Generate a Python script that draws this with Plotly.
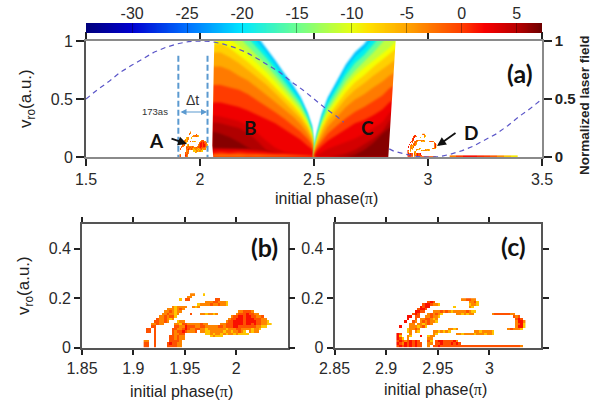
import plotly.graph_objects as go

W, H = 599, 405
# ---------- data ----------
phase_b = [2.055, 2.09, 2.13, 2.17, 2.21, 2.25, 2.29, 2.33, 2.37, 2.41, 2.44, 2.47, 2.49, 2.497, 2.5]
levels_b = {
    -21: [1.40,1.40,1.32,1.24,1.14,1.045,.945,.835,.72,.615,.52,.39,.27,.12,0],
    -18: [1.33,1.33,1.26,1.19,1.09,1.00,.905,.80,.69,.59,.50,.37,.255,.11,0],
    -15: [1.25,1.25,1.18,1.12,1.03,.945,.855,.755,.655,.555,.47,.35,.24,.10,0],
    -12: [1.12,1.14,1.10,1.04,.955,.875,.795,.70,.605,.515,.435,.325,.22,.09,0],
    -10: [1.03,1.05,1.02,.96,.885,.81,.735,.65,.56,.475,.40,.30,.20,.085,0],
    -7.5: [.97,.98,.94,.88,.82,.75,.68,.60,.52,.44,.37,.275,.185,.08,0],
    -5: [.90,.90,.86,.81,.75,.69,.625,.55,.475,.40,.335,.25,.165,.07,0],
    -2.5: [.78,.78,.75,.70,.66,.60,.54,.475,.41,.345,.285,.21,.14,.06,0],
    0: [.62,.62,.60,.58,.54,.49,.44,.385,.33,.27,.22,.16,.11,.05,0],
    2: [.47,.47,.45,.43,.40,.365,.33,.29,.24,.19,.15,.10,.07,.03,0],
    3.5: [.36,.35,.33,.31,.27,.21,.14,.08,.04,.02,.01,0,0,0,0],
    5: [.30,.29,.27,.25,.21,.14,.06,.03,0,0,0,0,0,0,0],
    6.5: [.22,.20,.17,.13,.08,.04,.02,0,0,0,0,0,0,0,0],
}
bottom_b = {
    3.5: [.075,.075,.075,.075,.07,.06,.05,0,0,0,0,0,0,0,0],
    2: [.06,.06,.06,.06,.055,.05,.045,.04,.035,.03,.03,.025,.02,.01,0],
    0: [.035,.04,.035,.04,.035,.03,.03,.025,.025,.02,.02,.015,.015,.01,0],
    -2.5: [.015,.02,.018,.02,.012,.015,.01,.008,.008,.006,.006,.006,.006,.004,0],
}
phase_c = [2.5, 2.505, 2.515, 2.535, 2.56, 2.6, 2.64, 2.68, 2.72, 2.76, 2.8, 2.83, 2.87]
levels_c = {
    -21: [0,.12,.22,.37,.51,.66,.80,.905,.975,1.08,1.18,1.26,1.36],
    -18: [0,.11,.205,.355,.48,.625,.76,.865,.935,1.03,1.13,1.21,1.31],
    -15: [0,.10,.19,.33,.45,.585,.71,.81,.88,.97,1.07,1.14,1.24],
    -12: [0,.09,.175,.30,.41,.535,.655,.745,.82,.90,.99,1.05,1.14],
    -10: [0,.085,.16,.275,.38,.50,.61,.70,.77,.83,.89,.94,1.02],
    -7.5: [0,.075,.145,.25,.35,.46,.56,.645,.705,.775,.84,.885,.95],
    -5: [0,.065,.125,.22,.31,.41,.505,.58,.635,.70,.755,.80,.86],
    -2.5: [0,.055,.105,.18,.26,.345,.43,.495,.54,.60,.65,.70,.75],
    0: [0,.04,.085,.14,.20,.27,.335,.39,.43,.48,.53,.59,.64],
    2: [0,.03,.06,.095,.14,.19,.24,.29,.32,.36,.41,.47,.52],
    3.5: [0,0,.02,.04,.07,.10,.13,.16,.20,.25,.30,.38,.43],
    5: [0,0,0,0,0,.01,.03,.06,.11,.16,.22,.31,.36],
    6.5: [0,0,0,0,0,0,0,.02,.06,.12,.20,.25,.30],
}
level_colors = {-21:"#00c4ff",-18:"#00f0f0",-15:"#66ff99",-12:"#c0ff40",-10:"#f5ff00",-7.5:"#ffd000",
                -5:"#ffa800",-2.5:"#ff7a00",0:"#ff3c00",2:"#f00000",3.5:"#d40000",5:"#b00000",6.5:"#860000"}

edge_b_x = [2.036, 2.063, 2.06, 2.055, 2.054, 2.058, 2.036]
edge_b_v = [1.0, 1.0, .75, .4, .1, 0, 0]
edge_c_x = [2.905, 2.858, 2.826, 2.905]
edge_c_v = [1.0, 1.0, 0, 0]

laser_phase = [1.5,1.55,1.6,1.65,1.7,1.75,1.8,1.85,1.9,1.95,2,2.05,2.1,2.15,2.2,2.25,2.3,2.35,2.4,2.45,2.5,2.55,2.6,2.63,
               None,2.83,2.85,2.9,2.95,3,3.03,3.05,3.1,3.15,3.2,3.25,3.3,3.35,3.4,3.45,3.5]
laser_field = [.5,.58,.65,.73,.79,.85,.905,.945,.975,.995,1,.995,.975,.945,.905,.85,.79,.73,.65,.58,.5,.42,.35,.30,
               None,.07,.05,.025,.006,0,0,.002,.025,.055,.095,.145,.2,.27,.35,.42,.5]

code = {".": None, "y": -7, "o": -3.5, "r": -1, "R": 1.5}
# panel (b): top row is v=0.21..0.22, cells 0.0025 x 0.01, from phase 1.91
rows_b = [
 ".......... ........oo ...y...... .......... ..........",
 ".......... .......oo. .......... .......... ..........",
 ".......... ....y.rr.. ........rr .......... ..........",
 ".......... .......... ....ooorro ooy....... ..........",
 ".......... .......... .yooooroor ooy....... ..........",
 ".......... .oyoooo..o yo........ .......... ..........",
 ".........o ooyoro.... .......... .......... ..........",
 "........oo royoo..... .......... .......oor rro.......",
 ".......oor ooyo....r. ..ooyooyo. ......orrr Rrroo.....",
 "......ooro rry....... .......... ....orrRRr RRrroor...",
 ".....rooro yo........ .......... ...orrRRRr RRRrrroo..",
 "....rrooro ...yoo.... .......... ..orrRRRRr RRRRrrooy.",
 "...ooroo.. ..ooyrrooo ooroo..... oorrrRRRRr RRrRrrooyy",
 "...rr..... ..rrooRrrr oorrooooor rorrrRRrrr rrrrooyy..",
 ".rr.r..... .rroorRroo rrooyooooo ooyooorroo ooyooy....",
 ".rr.r..... .rorrRrooo r.ooyyoooo oyooyooroy .oyoo.....",
 "....r..... .roorr.... ....yyoyoo yoyooyoyyy y.........",
 "....r..... rroroo.... ......yoyy y......... ..........",
 "....r..... rroroo.... .......... .......... ..........",
 "oo..r..... rrrro..... .......... .......... ..........",
 "rr..r....r Rrroo..... .......... .......... ..........",
 "rr..r....r rrroo..... .......... .......... ..........",
]
# panel (c): top row is v=0.19..0.20, cells 0.0025 x 0.01, from phase 2.91
rows_c = [
 ".......... .......... .....oorro o......... ..........",
 ".......... ..rRr..... ........oo ry........ ..........",
 ".......... rRRrooy... ........yo oy........ ..........",
 ".........R rRR....... ..y.....oy .......... ..........",
 "........rR Rr........ .......... .......... ..........",
 ".......RRr r...oooror oyoooooroy y......... ..........",
 "......rRr. ..ororoy.. ...ooyoyoo .......orr rrrroo....",
 "....RR.rr. .oorooy... .......... .......... .....ror..",
 "....R..r.o orroyo.... .......... .......... ......rRr.",
 "...R..ro.o rorooy.... .......... .......... ......oRRo",
 ".....oo.oo yoro...... .......... .......... ......orRy",
 ".R...oooyo ry........ .......... .......... ......oRRy",
 "....yooro. .......... ooyo...... .......... ...oroooy.",
 "....yo.oy. ....ooyoyo y......... ooyooooy.. ..........",
 "Rr...o.... ....oy.... ...ooyoooo yoooyooy.. ..........",
 "Ry..oy...R ..yoo..... .......... .......... ..........",
 "Rry.o..... ..oo...... .......... .......... ..........",
 "rRrorRrRr. ..ry.rRRrr rrRo...... .......... ..........",
 "RroRrRrRrr ..oo.rrRrr rRrRr..... .......... ..........",
 "rRrRrRrRrr ..o.rrRrrr rrrrrrrrrr rrrrrrrrrr rrrrrrrro.",
]
strip_phase = [3.11,3.14,3.17,3.2,3.23,3.26,3.29,3.32,3.35,3.38]
strip_z = [[-3,0,1.5,1.5,0.5,0,-1.5,-4,-7,-9]]
strip_v = [0, 0.014]

x_ticks_a = [1.5,2,2.5,3,3.5]
x_ticks_b = [1.85,1.9,1.95,2]
x_ticks_c = [2.85,2.9,2.95,3]
colorbar_ticks = [-30,-25,-20,-15,-10,-5,0,5]
colorbar_stops = [[-34.2,"#00007c"],[-30,"#0000d0"],[-25,"#0070ff"],[-20,"#00e8ff"],[-15,"#6cff90"],[-10,"#e8ff10"],
                  [-8.5,"#ffe000"],[-5,"#ffa400"],[0,"#ff3c00"],[2,"#f80000"],[5,"#b80000"],[7.3,"#6a0000"]]

# ---------- helpers ----------
CMIN, CMAX = -34.2, 7.3
px = lambda x: x / W
py = lambda y: 1 - y / H

def grid(rows, x0):
    clean = [r.replace(" ", "") for r in rows][::-1]
    z = [[code[c] for c in r] for r in clean]
    xs = [x0 + 0.0025 * (i + 0.5) for i in range(len(z[0]))]
    ys = [0.01 * (i + 0.5) for i in range(len(z))]
    return xs, ys, z

xb, yb, zb = grid(rows_b, 1.91)
xc, yc, zc = grid(rows_c, 2.91)

fig = go.Figure()

def band(xs, ys, lv):
    fig.add_trace(go.Scatter(x=xs, y=ys, mode="lines", line=dict(width=0), fill="tozeroy",
                             fillcolor=level_colors[lv], hoverinfo="skip", showlegend=False, xaxis="x", yaxis="y"))

for lv, v in levels_b.items():
    band(phase_b, v, lv)
for lv, v in bottom_b.items():
    band(phase_b, v, lv)
for lv, v in levels_c.items():
    band(phase_c, v, lv)

for ex, ev in ((edge_b_x, edge_b_v), (edge_c_x, edge_c_v)):
    fig.add_trace(go.Scatter(x=ex, y=ev, mode="lines", line=dict(width=0), fill="toself", fillcolor="white",
                             hoverinfo="skip", showlegend=False, xaxis="x", yaxis="y"))

hm = dict(coloraxis="coloraxis", hoverinfo="skip")
fig.add_trace(go.Heatmap(x=xb, y=yb, z=zb, xaxis="x", yaxis="y", **hm))
fig.add_trace(go.Heatmap(x=xc, y=yc, z=zc, xaxis="x", yaxis="y", **hm))
fig.add_trace(go.Heatmap(x=strip_phase, y=strip_v, z=strip_z, xaxis="x", yaxis="y", **hm))
fig.add_trace(go.Heatmap(x=xb, y=yb, z=zb, xaxis="x2", yaxis="y3", **hm))
fig.add_trace(go.Heatmap(x=xc, y=yc, z=zc, xaxis="x3", yaxis="y4", **hm))

# the colour bar is a one-row heatmap of the scale on its own axis
bar_values = [CMIN + i * 0.25 for i in range(int((CMAX - CMIN) / 0.25) + 1)]
fig.add_trace(go.Heatmap(x=bar_values, y=[0], z=[bar_values], zsmooth="best", xaxis="x4", yaxis="y5", **hm))

for xv in (1.905, 2.033):
    fig.add_trace(go.Scatter(x=[xv, xv], y=[-0.11, 0.895], mode="lines", cliponaxis=False,
                             line=dict(color="#5b9ad0", width=2, dash="6px,3px"), hoverinfo="skip",
                             showlegend=False, xaxis="x", yaxis="y"))

fig.add_trace(go.Scatter(x=laser_phase, y=laser_field, mode="lines", connectgaps=False,
                         line=dict(color="#5a55c8", width=1.2, dash="5px,4px"), hoverinfo="skip",
                         showlegend=False, xaxis="x", yaxis="y2"))

AX = "#555555"
base = dict(showline=True, linecolor=AX, linewidth=1.6, ticks="outside", tickcolor="#222222", tickwidth=1.5,
            showgrid=False, zeroline=False, tickmode="array", color="#222222",
            tickfont=dict(family="Liberation Sans", size=16, color="#2a2a2a"))

def xdom(a, b): return [px(a), px(b)]
def ydom(top, bottom): return [py(bottom), py(top)]

fig.update_layout(
    width=W, height=H, margin=dict(l=0, r=0, t=0, b=0, autoexpand=False), paper_bgcolor="white", plot_bgcolor="white",
    showlegend=False,
    coloraxis=dict(cmin=CMIN, cmax=CMAX, showscale=False,
                   colorscale=[[(z - CMIN) / (CMAX - CMIN), c] for z, c in colorbar_stops]),
    xaxis=dict(base, domain=xdom(86, 542), range=[1.5, 3.5], tickvals=x_ticks_a, ticktext=[str(v) for v in x_ticks_a],
               mirror="ticks", ticklen=7, anchor="y", linecolor="#8a8a8a"),
    yaxis=dict(base, domain=ydom(41, 157), range=[0, 1], tickvals=[0, .5, 1], ticktext=["0", "0.5", "1"], ticklen=8, anchor="x"),
    yaxis2=dict(base, overlaying="y", side="right", anchor="x", range=[0, 1], tickvals=[0, .5, 1], ticktext=["0", "0.5", "1"],
                ticklen=8, linecolor="#8a8a8a", tickfont=dict(family="Liberation Sans", size=15, color="#222222", weight="bold")),
    xaxis2=dict(base, domain=xdom(82, 287.5), range=[1.85, 2.05], tickvals=x_ticks_b, ticktext=[str(v) for v in x_ticks_b],
                mirror="ticks", ticklen=5, anchor="y3"),
    yaxis3=dict(base, domain=ydom(224, 347.7), range=[0, .5], tickvals=[0, .2, .4], ticktext=["0", "0.2", "0.4"],
                mirror="ticks", ticklen=6, anchor="x2"),
    xaxis3=dict(base, domain=xdom(334.5, 541), range=[2.85, 3.05], tickvals=x_ticks_c, ticktext=[str(v) for v in x_ticks_c],
                mirror="ticks", ticklen=5, anchor="y4"),
    yaxis4=dict(base, domain=ydom(224, 347.7), range=[0, .5], tickvals=[0, .2, .4], ticktext=["0", "0.2", "0.4"],
                mirror="ticks", ticklen=6, anchor="x3"),
    xaxis4=dict(domain=xdom(86, 542), range=[CMIN, CMAX], side="top", anchor="y5", showline=False, showgrid=False, zeroline=False,
                tickmode="array", tickvals=colorbar_ticks, ticktext=[str(v) for v in colorbar_ticks],
                ticks="inside", ticklen=10, tickwidth=1, tickcolor="rgba(0,0,0,0.35)",
                tickfont=dict(family="Liberation Sans", size=16, color="#2a2a2a")),
    yaxis5=dict(domain=ydom(23, 33), range=[-0.5, 0.5], anchor="x4", visible=False),
)

PI = '<span style="font-family:Liberation Serif">π</span>'
def txt(x, y, s, size=16, bold=False, fam="Liberation Sans", color="#222222", angle=0):
    fig.add_annotation(xref="paper", yref="paper", x=px(x), y=py(y), xanchor="center", yanchor="middle", text=s,
                       showarrow=False, textangle=angle,
                       font=dict(family=fam, size=size, color=color, weight="bold" if bold else "normal"))

txt(326, 198, f"initial phase({PI})", 16)
txt(181, 391, f"initial phase({PI})", 16)
txt(435, 389, f"initial phase({PI})", 16)
txt(27, 99, "v<sub>ro</sub>(a.u.)", 17, angle=-90)
txt(25, 286, "v<sub>ro</sub>(a.u.)", 17, angle=-90)
txt(584, 105, "Normalized laser field", 13.5, bold=True, angle=-90)
for x, y, s in ((156, 140, "A"), (250, 128, "B"), (367, 128, "C"), (471, 132, "D")):
    txt(x, y, s, 19, bold=True, fam="Lato", color="#111111")
txt(520, 73, "(a)", 25, bold=True, fam="Lato", color="#111111")
txt(264, 247, "(b)", 25, bold=True, fam="Lato", color="#111111")
txt(513, 246, "(c)", 25, bold=True, fam="Lato", color="#111111")
txt(155, 111, "173as", 9.5, color="#333333")
txt(192, 100, "Δt", 14, color="#333333")

def arrow(x0, y0, x1, y1, color, width, head, side="end"):
    fig.add_annotation(xref="paper", yref="paper", axref="pixel", ayref="pixel", x=px(x1), y=py(y1), ax=x0 - x1, ay=y0 - y1,
                       text="", showarrow=True, arrowhead=head, arrowside=side, arrowwidth=width, arrowcolor=color, arrowsize=1)

arrow(170, 138, 187, 144, "#111111", 1.8, 2)
arrow(457, 132, 437, 146, "#111111", 1.8, 2)
arrow(179, 112, 207, 112, "#5b9ad0", 1.2, 2, "end+start")

# page without margin; soften the colour bands the way the blurred source image shows them
page = """
document.body.style.margin = '0';
document.querySelectorAll('.scatterlayer path.js-fill').forEach(function (p) {
  if (p.style.fill !== 'rgb(255, 255, 255)') { p.style.filter = 'blur(1.3px)'; }
});
"""
fig.write_html("out.html", post_script=page, config={"displayModeBar": False})
